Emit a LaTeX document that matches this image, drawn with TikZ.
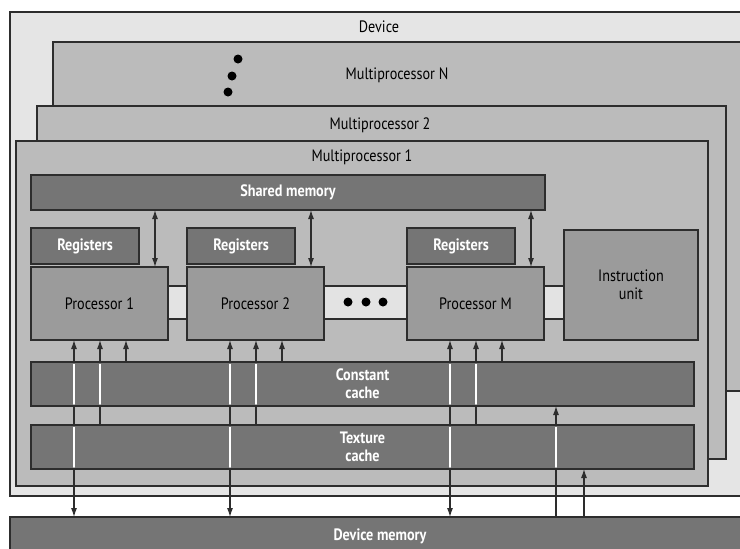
\documentclass[tikz,border=0pt]{standalone}
\usepackage{fontspec}
\setmainfont{PT Sans}[FakeStretch=0.86]
\usepackage{xcolor}
\usepackage{tikz}
\usetikzlibrary{arrows.meta, positioning, calc}
\definecolor{devicegray}{RGB}{229, 229, 229}
\definecolor{mpgray}{RGB}{187, 187, 187}
\definecolor{memgray}{RGB}{117, 117, 117}
\definecolor{procgray}{RGB}{155, 155, 155}
\definecolor{bandgray}{RGB}{227, 227, 227}
\definecolor{edgegray}{RGB}{45, 45, 45}

\begin{document}
\begin{tikzpicture}[x=1pt, y=-1pt, font=\fontsize{16.5}{18}\selectfont,
  >={Latex[length=9pt, width=6pt]},
  box/.style={draw=edgegray, line width=1.3pt, inner sep=0pt, outer sep=0pt, anchor=north west},
  mem/.style={box, fill=memgray, text=white, align=center, font=\fontsize{16.5}{18}\selectfont\bfseries},
  proc/.style={box, fill=procgray, align=center},
  link/.style={edgegray, line width=1.1pt},
  whitelink/.style={white, line width=1.1pt}]

  \useasboundingbox (0,0) rectangle (740,549);
  \clip (0,0) rectangle (740,549);
  \fill[white] (0,0) rectangle (740,549);

  % device and the stacked multiprocessors
  \node[box, fill=devicegray, minimum width=760, minimum height=484] (device) at (10,12) {};
  \node[box, fill=mpgray, minimum width=720, minimum height=349] (mpN) at (53,42) {};
  \node[box, fill=mpgray, minimum width=689, minimum height=353] (mp2) at (37,106) {};
  \node[box, fill=mpgray, minimum width=692, minimum height=345] (mp1) at (16,141) {};
  \node (devicelbl) at (379,27) {Device};
  \node (mpNlbl) at (397,75) {Multiprocessor N};
  \node (mp2lbl) at (380,125) {Multiprocessor 2};
  \node (mp1lbl) at (362,157) {Multiprocessor 1};
  \foreach \x/\y in {238/59, 232/76, 228/92}
    \fill (\x,\y) circle[radius=4.5];

  % processors
  \node[box, fill=bandgray, minimum width=410, minimum height=33] (band) at (160,286) {};
  \node[mem, minimum width=514, minimum height=35] (sm) at (31,175) {Shared memory};
  \foreach \n/\x/\t in {p1/31/Processor 1, p2/187/Processor 2, pm/407/Processor M} {
    \node[mem, minimum width=108, minimum height=36] (reg\n) at (\x,228) {Registers};
    \node[proc, minimum width=137, minimum height=73] (\n) at (\x,267) {\t};
  }
  \node[proc, minimum width=134, minimum height=110] (iu) at (564,230) {Instruction\\unit};
  \foreach \x in {348, 366, 383}
    \fill (\x,302) circle[radius=4.5];

  % caches and device memory
  \node[mem, minimum width=663, minimum height=44] (cc) at (31,362) {Constant\\cache};
  \node[mem, minimum width=663, minimum height=44] (tc) at (31,425) {Texture\\cache};
  \node[mem, minimum width=740, minimum height=38] (dm) at (10,517) {Device memory};

  \foreach \n in {p1, p2, pm} {
    \draw[link, <->] ($(\n.north east |- sm.south)+(-13,0)$) -- ($(\n.north east)+(-13,0)$);
    \draw[link, <->] ($(\n.south west)+(43,0)$) -- ($(\n.south west |- dm.north)+(43,0)$);
    \draw[link, ->] ($(\n.south west |- tc.north)+(69,0)$) -- ($(\n.south west)+(69,0)$);
    \draw[link, ->] ($(\n.south west |- cc.north)+(95,0)$) -- ($(\n.south west)+(95,0)$);
  }
  \draw[link, ->] ($(dm.north west)+(546,0)$) -- ($(dm.north west |- cc.south)+(546,0)$);
  \draw[link, ->] ($(dm.north west)+(574,0)$) -- ($(dm.north west |- tc.south)+(574,0)$);

  % lines turn white where they cross the caches
  \begin{scope}
    \clip ($(cc.north west)+(0,1.5)$) rectangle ($(cc.south east)+(0,-1.5)$)
          ($(tc.north west)+(0,1.5)$) rectangle ($(tc.south east)+(0,-1.5)$);
    \foreach \n in {p1, p2, pm} {
      \draw[whitelink] ($(\n.south west)+(43,0)$) -- ($(\n.south west |- dm.north)+(43,0)$);
      \draw[whitelink] ($(\n.south west |- tc.north)+(69,0)$) -- ($(\n.south west)+(69,0)$);
    }
    \draw[whitelink] ($(dm.north west)+(546,0)$) -- ($(dm.north west |- cc.south)+(546,0)$);
  \end{scope}

\end{tikzpicture}
\end{document}
